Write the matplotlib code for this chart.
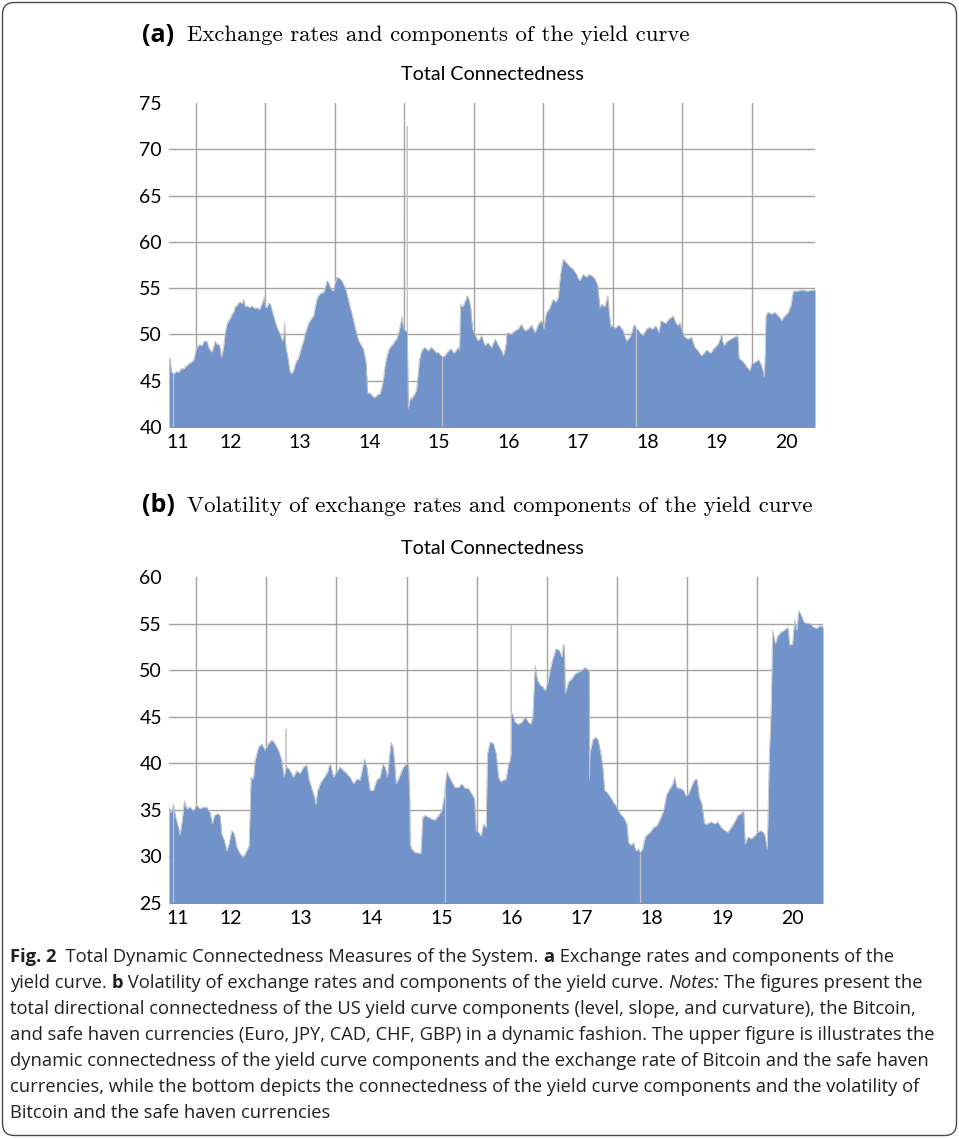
import matplotlib
matplotlib.use("Agg")
import matplotlib.pyplot as plt
import numpy as np
from matplotlib.patches import FancyBboxPatch
from matplotlib.transforms import IdentityTransform

# (a) exchange rates + yield curve components, total connectedness (decimal years)
top_years = [
    2011.612, 2011.625, 2011.645, 2011.679, 2011.715, 2011.751, 2011.785, 2011.823, 2011.860, 2011.894,
    2011.930, 2011.966, 2012.014, 2012.050, 2012.086, 2012.110, 2012.134, 2012.160, 2012.182, 2012.205,
    2012.230, 2012.255, 2012.278, 2012.300, 2012.326, 2012.350, 2012.365, 2012.380, 2012.398, 2012.420,
    2012.446, 2012.470, 2012.494, 2012.520, 2012.542, 2012.565, 2012.590, 2012.615, 2012.638, 2012.665,
    2012.686, 2012.710, 2012.734, 2012.770, 2012.806, 2012.840, 2012.878, 2012.915, 2012.950, 2012.983,
    2013.000, 2013.022, 2013.045, 2013.070, 2013.095, 2013.118, 2013.140, 2013.165, 2013.190, 2013.213,
    2013.230, 2013.247, 2013.265, 2013.276, 2013.285, 2013.295, 2013.310, 2013.324, 2013.340, 2013.357,
    2013.380, 2013.405, 2013.430, 2013.453, 2013.475, 2013.501, 2013.525, 2013.549, 2013.575, 2013.597,
    2013.620, 2013.645, 2013.670, 2013.693, 2013.718, 2013.741, 2013.765, 2013.789, 2013.812, 2013.837,
    2013.860, 2013.885, 2013.910, 2013.933, 2013.958, 2013.981, 2014.005, 2014.029, 2014.053, 2014.077,
    2014.100, 2014.125, 2014.150, 2014.173, 2014.197, 2014.221, 2014.245, 2014.269, 2014.293, 2014.317,
    2014.340, 2014.365, 2014.390, 2014.412, 2014.435, 2014.451, 2014.465, 2014.475, 2014.508, 2014.545,
    2014.580, 2014.615, 2014.652, 2014.675, 2014.697, 2014.720, 2014.745, 2014.770, 2014.793, 2014.817,
    2014.841, 2014.865, 2014.889, 2014.912, 2014.937, 2014.955, 2014.966, 2014.980, 2014.995, 2015.023,
    2015.040, 2015.042, 2015.045, 2015.057, 2015.075, 2015.091, 2015.110, 2015.129, 2015.155, 2015.177,
    2015.195, 2015.216, 2015.235, 2015.249, 2015.275, 2015.297, 2015.320, 2015.345, 2015.370, 2015.393,
    2015.415, 2015.441, 2015.465, 2015.489, 2015.515, 2015.537, 2015.560, 2015.585, 2015.610, 2015.633,
    2015.660, 2015.681, 2015.705, 2015.729, 2015.755, 2015.777, 2015.795, 2015.803, 2015.810, 2015.830,
    2015.849, 2015.870, 2015.887, 2015.905, 2015.921, 2015.940, 2015.955, 2015.970, 2015.984, 2016.000,
    2016.017, 2016.040, 2016.065, 2016.090, 2016.113, 2016.137, 2016.161, 2016.185, 2016.209, 2016.233,
    2016.257, 2016.280, 2016.305, 2016.330, 2016.353, 2016.380, 2016.401, 2016.425, 2016.445, 2016.463,
    2016.475, 2016.487, 2016.515, 2016.545, 2016.570, 2016.593, 2016.617, 2016.641, 2016.665, 2016.689,
    2016.713, 2016.737, 2016.760, 2016.785, 2016.810, 2016.833, 2016.857, 2016.881, 2016.905, 2016.929,
    2016.953, 2016.977, 2017.000, 2017.010, 2017.030, 2017.049, 2017.072, 2017.096, 2017.120, 2017.144,
    2017.165, 2017.183, 2017.200, 2017.216, 2017.235, 2017.250, 2017.270, 2017.288, 2017.307, 2017.327,
    2017.350, 2017.375, 2017.400, 2017.423, 2017.450, 2017.481, 2017.505, 2017.528, 2017.552, 2017.576,
    2017.600, 2017.625, 2017.650, 2017.672, 2017.697, 2017.720, 2017.744, 2017.765, 2017.783, 2017.800,
    2017.816, 2017.833, 2017.850, 2017.870, 2017.888, 2017.910, 2017.927, 2017.946, 2017.962, 2017.975,
    2017.990, 2018.008, 2018.030, 2018.057, 2018.080, 2018.105, 2018.130, 2018.152, 2018.175, 2018.200,
    2018.225, 2018.248, 2018.265, 2018.282, 2018.300, 2018.311, 2018.330, 2018.344, 2018.370, 2018.392,
    2018.415, 2018.440, 2018.465, 2018.488, 2018.512, 2018.536, 2018.560, 2018.584, 2018.610, 2018.632,
    2018.650, 2018.665, 2018.680, 2018.694, 2018.718, 2018.742, 2018.765, 2018.790, 2018.815, 2018.838,
    2018.855, 2018.872, 2018.895, 2018.920, 2018.945, 2018.968, 2018.985, 2019.001, 2019.020, 2019.040,
    2019.065, 2019.088, 2019.110, 2019.136, 2019.160, 2019.184, 2019.210, 2019.232, 2019.256, 2019.280,
    2019.305, 2019.328, 2019.352, 2019.376, 2019.400, 2019.424, 2019.448, 2019.472, 2019.496, 2019.520,
    2019.545, 2019.568, 2019.585, 2019.606, 2019.630, 2019.654, 2019.680, 2019.702, 2019.725, 2019.750,
    2019.775, 2019.798, 2019.808, 2019.817, 2019.836, 2019.856, 2019.880, 2019.904, 2019.928, 2019.952,
    2019.976, 2020.000, 2020.024, 2020.048, 2020.072, 2020.096, 2020.120, 2020.144, 2020.165, 2020.182,
    2020.195, 2020.206, 2020.225, 2020.240, 2020.265, 2020.288, 2020.312, 2020.336, 2020.360, 2020.384,
    2020.408, 2020.432, 2020.456, 2020.480, 2020.505, 2020.528, 2020.548, 2020.567, 2020.585, 2020.601,
    2020.637, 2020.673, 2020.710, 2020.745, 2020.780, 2020.817, 2020.865, 2020.913,
]
top_values = [
    47.0, 47.5, 46.0, 45.7, 46.0, 45.9, 46.3, 46.3, 46.6, 46.8,
    47.0, 47.2, 48.6, 48.9, 48.8, 49.2, 49.3, 49.2, 48.6, 48.3,
    48.1, 48.7, 49.3, 48.9, 49.0, 48.5, 47.5, 48.0, 48.6, 50.2,
    51.1, 51.5, 51.7, 52.2, 52.4, 53.0, 53.1, 53.4, 53.5, 53.3,
    53.8, 53.0, 53.1, 52.9, 53.1, 52.8, 52.9, 52.7, 53.3, 54.0,
    53.0, 52.9, 53.4, 53.3, 52.6, 52.0, 51.4, 50.8, 50.4, 50.0,
    49.6, 49.3, 50.0, 51.3, 49.5, 48.6, 48.0, 47.5, 46.6, 45.9,
    45.8, 46.1, 46.8, 47.2, 47.4, 48.1, 48.8, 49.3, 50.2, 50.6,
    51.2, 51.5, 51.8, 52.0, 53.0, 53.8, 54.2, 54.4, 54.5, 54.5,
    55.0, 55.8, 55.6, 55.1, 54.8, 54.7, 55.5, 56.2, 56.1, 56.0,
    55.8, 55.4, 55.0, 54.4, 53.6, 52.9, 52.2, 51.5, 50.7, 50.0,
    49.4, 49.0, 48.7, 48.4, 47.5, 46.8, 44.5, 43.6, 43.7, 43.3,
    43.2, 43.5, 43.6, 44.3, 45.0, 46.5, 47.5, 48.2, 48.6, 48.8,
    49.0, 49.3, 49.5, 50.0, 50.8, 51.5, 52.0, 51.0, 50.6, 50.4,
    50.2, 72.5, 49.0, 42.0, 42.8, 43.2, 43.0, 43.4, 43.6, 44.1,
    45.5, 47.2, 47.8, 48.2, 48.5, 48.6, 48.4, 48.2, 48.5, 48.6,
    48.4, 48.2, 48.0, 48.1, 47.8, 47.7, 47.6, 47.7, 48.0, 48.2,
    48.4, 48.4, 48.0, 48.1, 48.4, 48.6, 48.3, 51.5, 53.3, 53.0,
    53.1, 53.5, 53.8, 54.2, 54.0, 53.5, 52.9, 51.5, 50.6, 50.2,
    50.0, 49.6, 49.3, 49.6, 49.9, 49.3, 48.8, 49.0, 49.1, 48.8,
    48.6, 49.0, 49.5, 49.2, 48.8, 48.5, 48.2, 47.7, 48.2, 49.0,
    50.0, 50.2, 50.1, 50.0, 50.3, 50.4, 50.5, 50.6, 50.9, 51.1,
    50.7, 50.4, 50.5, 50.6, 50.8, 51.0, 50.6, 50.2, 50.6, 51.1,
    51.3, 51.5, 51.0, 50.6, 51.8, 52.4, 52.6, 52.9, 53.4, 53.8,
    53.6, 53.5, 53.8, 54.0, 55.5, 56.5, 57.5, 58.1, 58.0, 57.8,
    57.6, 57.4, 57.2, 57.1, 56.8, 56.5, 56.0, 55.8, 56.2, 56.5,
    56.3, 56.2, 56.4, 56.5, 56.3, 56.2, 56.0, 55.6, 55.4, 54.0,
    52.9, 53.2, 53.3, 53.0, 53.1, 53.6, 54.2, 52.6, 51.5, 50.8,
    51.0, 50.9, 50.7, 50.8, 51.0, 50.9, 50.6, 50.4, 49.8, 49.3,
    49.5, 49.7, 50.0, 50.4, 50.9, 51.1, 50.8, 50.6, 50.5, 50.2,
    50.0, 49.9, 50.3, 50.6, 50.7, 50.8, 50.6, 50.6, 50.9, 50.8,
    50.5, 50.2, 50.8, 51.5, 51.4, 51.3, 51.2, 51.5, 51.7, 51.8,
    51.9, 52.0, 51.5, 51.1, 51.0, 51.3, 50.8, 50.4, 50.0, 49.7,
    49.6, 49.5, 49.6, 49.7, 49.1, 48.6, 48.4, 48.2, 47.9, 47.7,
    47.9, 48.1, 48.3, 48.2, 48.0, 48.1, 48.4, 48.6, 48.8, 49.0,
    49.5, 50.0, 49.2, 48.8, 49.1, 49.3, 49.4, 49.5, 49.6, 49.7,
    49.8, 49.9, 49.0, 47.5, 47.3, 47.2, 47.0, 46.8, 46.5, 46.3,
    46.1, 46.8, 46.9, 47.0, 47.1, 47.3, 47.0, 46.6, 46.0, 45.4,
    48.0, 52.0, 52.3, 52.4, 52.3, 52.2, 52.3, 52.4, 52.2, 52.0,
    51.8, 51.5, 51.8, 52.0, 52.2, 52.4, 52.8, 53.1, 54.0, 54.7,
    54.7, 54.7, 54.8, 54.8, 54.7, 54.7, 54.8, 54.8,
]
top_gaps = [2011.670, 2015.546, 2018.330]

# (b) volatility of exchange rates + yield curve components
bottom_years = [
    2011.615, 2011.644, 2011.677, 2011.710, 2011.748, 2011.772, 2011.805, 2011.834, 2011.867, 2011.914,
    2011.962, 2012.010, 2012.057, 2012.105, 2012.152, 2012.200, 2012.233, 2012.261, 2012.309, 2012.342,
    2012.366, 2012.404, 2012.437, 2012.470, 2012.508, 2012.546, 2012.580, 2012.627, 2012.675, 2012.722,
    2012.756, 2012.784, 2012.817, 2012.841, 2012.889, 2012.936, 2012.984, 2013.031, 2013.079, 2013.126,
    2013.174, 2013.221, 2013.254, 2013.281, 2013.283, 2013.285, 2013.302, 2013.340, 2013.387, 2013.435,
    2013.483, 2013.530, 2013.578, 2013.611, 2013.649, 2013.687, 2013.706, 2013.734, 2013.782, 2013.829,
    2013.877, 2013.910, 2013.958, 2014.005, 2014.053, 2014.100, 2014.148, 2014.195, 2014.243, 2014.290,
    2014.338, 2014.400, 2014.433, 2014.480, 2014.528, 2014.576, 2014.623, 2014.661, 2014.694, 2014.727,
    2014.756, 2014.780, 2014.804, 2014.827, 2014.851, 2014.884, 2014.918, 2014.956, 2014.994, 2015.027,
    2015.045, 2015.051, 2015.074, 2015.122, 2015.169, 2015.203, 2015.231, 2015.264, 2015.312, 2015.360,
    2015.407, 2015.455, 2015.502, 2015.535, 2015.573, 2015.611, 2015.645, 2015.692, 2015.740, 2015.787,
    2015.835, 2015.882, 2015.930, 2015.968, 2015.991, 2016.025, 2016.063, 2016.096, 2016.134, 2016.153,
    2016.191, 2016.239, 2016.277, 2016.310, 2016.343, 2016.381, 2016.419, 2016.452, 2016.476, 2016.487,
    2016.490, 2016.493, 2016.509, 2016.547, 2016.595, 2016.643, 2016.690, 2016.737, 2016.771, 2016.799,
    2016.832, 2016.866, 2016.904, 2016.942, 2016.975, 2017.008, 2017.046, 2017.084, 2017.132, 2017.179,
    2017.213, 2017.236, 2017.250, 2017.260, 2017.307, 2017.355, 2017.402, 2017.450, 2017.498, 2017.545,
    2017.593, 2017.603, 2017.607, 2017.612, 2017.621, 2017.654, 2017.688, 2017.726, 2017.759, 2017.792,
    2017.821, 2017.854, 2017.902, 2017.949, 2017.997, 2018.044, 2018.092, 2018.139, 2018.163, 2018.201,
    2018.234, 2018.268, 2018.306, 2018.329, 2018.363, 2018.401, 2018.439, 2018.472, 2018.519, 2018.567,
    2018.614, 2018.662, 2018.709, 2018.757, 2018.795, 2018.819, 2018.852, 2018.900, 2018.947, 2018.981,
    2019.018, 2019.066, 2019.104, 2019.137, 2019.170, 2019.208, 2019.246, 2019.294, 2019.341, 2019.389,
    2019.436, 2019.484, 2019.531, 2019.579, 2019.627, 2019.674, 2019.722, 2019.769, 2019.803, 2019.826,
    2019.864, 2019.912, 2019.959, 2020.007, 2020.054, 2020.102, 2020.140, 2020.169, 2020.197, 2020.216,
    2020.254, 2020.292, 2020.340, 2020.387, 2020.435, 2020.459, 2020.501, 2020.530, 2020.563, 2020.587,
    2020.625, 2020.659, 2020.706, 2020.754, 2020.801, 2020.849, 2020.896, 2020.935,
]
bottom_values = [
    35.3, 34.7, 35.6, 34.2, 33.1, 32.3, 34.0, 36.0, 35.1, 35.3,
    34.9, 35.5, 35.1, 35.3, 35.3, 34.7, 33.5, 34.4, 34.6, 34.4,
    32.4, 31.7, 30.6, 31.3, 32.8, 32.4, 31.0, 30.3, 29.9, 30.6,
    31.2, 38.5, 38.3, 40.3, 41.7, 42.1, 41.4, 42.1, 42.5, 42.1,
    41.4, 40.3, 38.5, 39.5, 43.7, 39.5, 39.6, 39.2, 38.5, 39.2,
    38.9, 39.6, 39.8, 38.2, 37.3, 36.4, 35.6, 37.1, 38.0, 38.5,
    39.1, 40.1, 38.5, 39.1, 39.6, 39.2, 38.9, 38.5, 37.8, 38.3,
    38.2, 40.5, 39.6, 37.1, 37.1, 38.2, 38.5, 39.9, 39.6, 38.5,
    40.7, 42.3, 41.8, 40.3, 37.8, 38.3, 38.9, 39.6, 39.9, 40.1,
    36.0, 31.3, 30.8, 30.4, 30.4, 30.3, 34.2, 34.4, 34.2, 34.0,
    33.9, 34.4, 34.9, 36.4, 39.1, 38.5, 38.0, 37.4, 37.4, 37.8,
    37.3, 37.3, 36.7, 36.2, 32.8, 32.6, 32.2, 33.5, 33.1, 41.0,
    42.3, 42.1, 41.0, 38.5, 38.0, 38.2, 38.3, 39.9, 40.3, 41.0,
    54.8, 45.5, 45.3, 44.4, 44.2, 44.4, 45.0, 44.4, 44.2, 45.0,
    50.5, 48.9, 48.4, 48.2, 47.8, 48.5, 50.0, 51.2, 52.3, 52.1,
    51.4, 52.8, 52.5, 47.5, 48.7, 49.1, 49.6, 49.8, 50.0, 50.3,
    50.0, 49.8, 38.3, 41.0, 41.4, 42.5, 42.8, 42.6, 41.4, 39.9,
    37.1, 36.9, 36.4, 35.8, 35.3, 34.6, 34.2, 33.5, 31.5, 31.2,
    31.5, 30.6, 30.8, 30.4, 30.8, 32.1, 32.4, 32.6, 33.1, 33.3,
    34.0, 34.9, 36.7, 37.3, 37.8, 38.5, 37.4, 37.3, 37.1, 36.5,
    36.7, 37.6, 38.2, 38.3, 36.4, 35.6, 33.5, 33.5, 33.7, 33.5,
    33.7, 33.1, 32.8, 32.6, 33.1, 33.7, 34.4, 34.6, 35.1, 31.3,
    32.1, 31.9, 32.2, 32.6, 32.8, 32.4, 30.8, 40.7, 46.0, 54.3,
    52.8, 53.7, 54.1, 54.3, 54.6, 52.7, 52.8, 55.4, 54.3, 56.4,
    55.9, 55.2, 55.0, 55.0, 54.6, 54.5, 54.8, 54.6,
]
bottom_gaps = [2011.675, 2015.550, 2018.330]

grid_years = [2012, 2013, 2014, 2015, 2016, 2017, 2018, 2019, 2020]
year_labels = ["11", "12", "13", "14", "15", "16", "17", "18", "19", "20"]
label_pos = [2011.74] + [y + 0.5 for y in grid_years]

FILL = "#7193c9"
EDGE = "#c4c4c4"
GRID = "#a3a3a3"
CHART_FONT = ["Lato", "DejaVu Sans"]

W, H = 959, 1139
fig = plt.figure(figsize=(W / 100, H / 100), dpi=100)


def fx(px):
    return px / W


def fy(py):
    return 1 - py / H


def draw_panel(rect, years, values, gaps, x_end, yticks):
    ax = fig.add_axes(rect)
    ax.fill_between(years, values, 0, color=FILL, lw=0, zorder=2)
    ax.plot(years, values, color=EDGE, lw=0.6, zorder=3)
    ax.vlines(gaps, 0, np.interp(gaps, years, values), color=EDGE, lw=0.9, zorder=3)
    for y in yticks[:-1]:
        ax.axhline(y, color=GRID, lw=1.0, zorder=1)
    for yr in grid_years:
        ax.axvline(yr, color=GRID, lw=1.0, zorder=1)
    ax.set_xlim(years[0], x_end)
    ax.set_ylim(yticks[0], yticks[-1])
    ax.set_yticks(yticks)
    ax.set_xticks(label_pos, year_labels)
    ax.tick_params(length=0, labelsize=14)
    ax.tick_params(axis="y", pad=5)
    ax.tick_params(axis="x", pad=5)
    for lab in ax.get_xticklabels() + ax.get_yticklabels():
        lab.set_family(CHART_FONT)
    for s in ax.spines.values():
        s.set_visible(False)
    return ax


draw_panel([fx(169), fy(427), fx(815 - 169), (427 - 103) / H],
           top_years, top_values, top_gaps, 2020.913, list(range(40, 80, 5)))
draw_panel([fx(169), fy(903), fx(823 - 169), (903 - 577) / H],
           bottom_years, bottom_values, bottom_gaps, 2020.935, list(range(25, 65, 5)))

# panel headings
for py, letter, title in [(35, "(a)", "Exchange rates and components of the yield curve"),
                          (506, "(b)", "Volatility of exchange rates and components of the yield curve")]:
    fig.text(fx(142), fy(py), letter, fontsize=18, fontweight="bold",
             family=["Open Sans", "DejaVu Sans"], va="center", ha="left")
    fig.text(fx(187), fy(py), title, fontsize=16.4, family="cmr10", va="center", ha="left")

for py in (75, 548):
    fig.text(fx(492), fy(py), "Total Connectedness", fontsize=14.2, family=CHART_FONT,
             ha="center", va="center")

# caption, one text run per style change
caption = [
    [("Fig. 2", "bold", "normal"), ("  Total Dynamic Connectedness Measures of the System. ", "normal", "normal"),
     ("a", "bold", "normal"), (" Exchange rates and components of the", "normal", "normal")],
    [("yield curve. ", "normal", "normal"), ("b", "bold", "normal"),
     (" Volatility of exchange rates and components of the yield curve. ", "normal", "normal"),
     ("Notes:", "normal", "italic"), (" The figures present the", "normal", "normal")],
    [("total directional connectedness of the US yield curve components (level, slope, and curvature), the Bitcoin,",
      "normal", "normal")],
    [("and safe haven currencies (Euro, JPY, CAD, CHF, GBP) in a dynamic fashion. The upper figure is illustrates the",
      "normal", "normal")],
    [("dynamic connectedness of the yield curve components and the exchange rate of Bitcoin and the safe haven",
      "normal", "normal")],
    [("currencies, while the bottom depicts the connectedness of the yield curve components and the volatility of",
      "normal", "normal")],
    [("Bitcoin and the safe haven currencies", "normal", "normal")],
]
cap_ax = fig.add_axes([0, 0, 1, 1])
cap_ax.axis("off")
CAP_FONT = ["Open Sans", "DejaVu Sans"]
for i, parts in enumerate(caption):
    prev = None
    for txt, weight, style in parts:
        kw = dict(fontsize=13.2, family=CAP_FONT, fontweight=weight, fontstyle=style,
                  ha="left", va="bottom", color="#231f20")
        if prev is None:
            prev = cap_ax.annotate(txt, xy=(fx(10), fy(966 + 26 * i)), xycoords="figure fraction", **kw)
        else:
            prev = cap_ax.annotate(txt, xy=(1, 0), xycoords=prev, **kw)

frame = FancyBboxPatch((2.5, 3.5), W - 5, H - 6, boxstyle="round,pad=0,rounding_size=12",
                       transform=IdentityTransform(), fill=False, ec="#4a4a4a", lw=1.0)
fig.add_artist(frame)

fig.savefig("out.png", dpi=100)
